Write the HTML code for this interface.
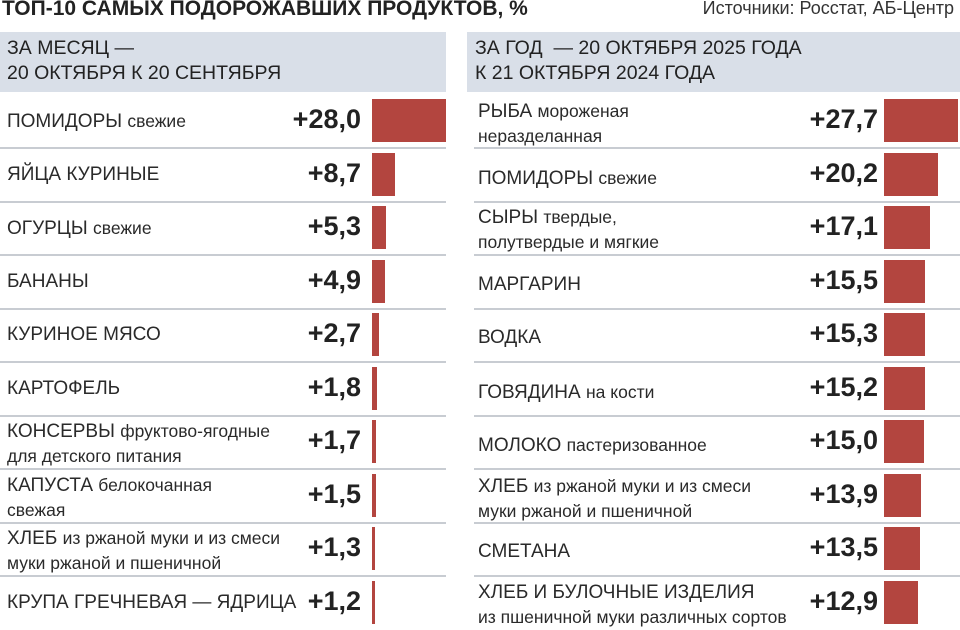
<!DOCTYPE html>
<html><head><meta charset="utf-8"><style>
body{margin:0;width:960px;height:628px;background:#fff;position:relative;overflow:hidden;font-family:"Liberation Sans",sans-serif;color:#222}
.a{position:absolute;white-space:nowrap}
.t{left:2px;top:-3px;font-weight:bold;font-size:21px}
.src{right:6px;top:-2px;font-size:18px;color:#333}
.hd{position:absolute;background:#d9dfe8;top:32px;height:60px}
.ht{position:absolute;font-size:19.5px;line-height:25px;top:36px;white-space:nowrap}
.l{position:absolute;font-size:19px;line-height:24px;white-space:nowrap;color:#2a2a2a}
.l small{font-size:17.5px}
.v{position:absolute;font-size:27px;font-weight:bold;text-align:right;width:100px}
.b{position:absolute;background:#b3453f;height:43px}
.s{position:absolute;height:2px;background:#c8ccd2}
</style></head><body>
<div class="a t">ТОП-10 САМЫХ ПОДОРОЖАВШИХ ПРОДУКТОВ, %</div>
<div class="a src">Источники: Росстат, АБ-Центр</div>
<div class="hd" style="left:0;width:446px"></div>
<div class="hd" style="left:467px;width:493px"></div>
<div class="ht" style="left:7px">ЗА МЕСЯЦ —<br>20 ОКТЯБРЯ К 20 СЕНТЯБРЯ</div>
<div class="ht" style="left:475px">ЗА ГОД&nbsp; — 20 ОКТЯБРЯ 2025 ГОДА<br>К 21 ОКТЯБРЯ 2024 ГОДА</div>

<div class="s" style="left:0;width:446px;top:147px"></div>
<div class="s" style="left:0;width:446px;top:201px"></div>
<div class="s" style="left:0;width:446px;top:254px"></div>
<div class="s" style="left:0;width:446px;top:308px"></div>
<div class="s" style="left:0;width:446px;top:361px"></div>
<div class="s" style="left:0;width:446px;top:415px"></div>
<div class="s" style="left:0;width:446px;top:468px"></div>
<div class="s" style="left:0;width:446px;top:522px"></div>
<div class="s" style="left:0;width:446px;top:575px"></div>
<div class="s" style="left:474px;width:486px;top:147px"></div>
<div class="s" style="left:474px;width:486px;top:201px"></div>
<div class="s" style="left:474px;width:486px;top:254px"></div>
<div class="s" style="left:474px;width:486px;top:308px"></div>
<div class="s" style="left:474px;width:486px;top:361px"></div>
<div class="s" style="left:474px;width:486px;top:415px"></div>
<div class="s" style="left:474px;width:486px;top:468px"></div>
<div class="s" style="left:474px;width:486px;top:522px"></div>
<div class="s" style="left:474px;width:486px;top:575px"></div>

<div class="l" style="left:7px;top:109px">ПОМИДОРЫ <small>свежие</small></div>
<div class="v" style="left:261px;top:104px">+28,0</div><div class="b" style="left:372px;top:99px;width:74px"></div>
<div class="l" style="left:7px;top:163px">ЯЙЦА КУРИНЫЕ</div>
<div class="v" style="left:261px;top:158px">+8,7</div><div class="b" style="left:372px;top:153px;width:23px"></div>
<div class="l" style="left:7px;top:216px">ОГУРЦЫ <small>свежие</small></div>
<div class="v" style="left:261px;top:211px">+5,3</div><div class="b" style="left:372px;top:206px;width:14px"></div>
<div class="l" style="left:7px;top:270px">БАНАНЫ</div>
<div class="v" style="left:261px;top:265px">+4,9</div><div class="b" style="left:372px;top:260px;width:13px"></div>
<div class="l" style="left:7px;top:323px">КУРИНОЕ МЯСО</div>
<div class="v" style="left:261px;top:318px">+2,7</div><div class="b" style="left:372px;top:313px;width:7px"></div>
<div class="l" style="left:7px;top:377px">КАРТОФЕЛЬ</div>
<div class="v" style="left:261px;top:372px">+1,8</div><div class="b" style="left:372px;top:367px;width:5px"></div>
<div class="l" style="left:7px;top:419px">КОНСЕРВЫ <small>фруктово-ягодные<br>для детского питания</small></div>
<div class="v" style="left:261px;top:425px">+1,7</div><div class="b" style="left:372px;top:420px;width:4px"></div>
<div class="l" style="left:7px;top:473px">КАПУСТА <small>белокочанная<br>свежая</small></div>
<div class="v" style="left:261px;top:479px">+1,5</div><div class="b" style="left:372px;top:474px;width:4px"></div>
<div class="l" style="left:7px;top:526px">ХЛЕБ <small>из ржаной муки и из смеси<br>муки ржаной и пшеничной</small></div>
<div class="v" style="left:261px;top:532px">+1,3</div><div class="b" style="left:372px;top:527px;width:3px"></div>
<div class="l" style="left:7px;top:591px">КРУПА ГРЕЧНЕВАЯ — ЯДРИЦА</div>
<div class="v" style="left:261px;top:586px">+1,2</div><div class="b" style="left:372px;top:581px;width:3px"></div>

<div class="l" style="left:478px;top:99px">РЫБА <small>мороженая<br>неразделанная</small></div>
<div class="v" style="left:778px;top:104px">+27,7</div><div class="b" style="left:884px;top:99px;width:74px"></div>
<div class="l" style="left:478px;top:166px">ПОМИДОРЫ <small>свежие</small></div>
<div class="v" style="left:778px;top:158px">+20,2</div><div class="b" style="left:884px;top:153px;width:54px"></div>
<div class="l" style="left:478px;top:205px">СЫРЫ <small>твердые,<br>полутвердые и мягкие</small></div>
<div class="v" style="left:778px;top:211px">+17,1</div><div class="b" style="left:884px;top:206px;width:46px"></div>
<div class="l" style="left:478px;top:273px">МАРГАРИН</div>
<div class="v" style="left:778px;top:265px">+15,5</div><div class="b" style="left:884px;top:260px;width:41px"></div>
<div class="l" style="left:478px;top:326px">ВОДКА</div>
<div class="v" style="left:778px;top:318px">+15,3</div><div class="b" style="left:884px;top:313px;width:41px"></div>
<div class="l" style="left:478px;top:380px">ГОВЯДИНА <small>на кости</small></div>
<div class="v" style="left:778px;top:372px">+15,2</div><div class="b" style="left:884px;top:367px;width:41px"></div>
<div class="l" style="left:478px;top:433px">МОЛОКО <small>пастеризованное</small></div>
<div class="v" style="left:778px;top:425px">+15,0</div><div class="b" style="left:884px;top:420px;width:40px"></div>
<div class="l" style="left:478px;top:474px">ХЛЕБ <small>из ржаной муки и из смеси<br>муки ржаной и пшеничной</small></div>
<div class="v" style="left:778px;top:479px">+13,9</div><div class="b" style="left:884px;top:474px;width:37px"></div>
<div class="l" style="left:478px;top:540px">СМЕТАНА</div>
<div class="v" style="left:778px;top:532px">+13,5</div><div class="b" style="left:884px;top:527px;width:36px"></div>
<div class="l" style="left:478px;top:581px">ХЛЕБ И БУЛОЧНЫЕ ИЗДЕЛИЯ<br><small>из пшеничной муки различных сортов</small></div>
<div class="v" style="left:778px;top:586px">+12,9</div><div class="b" style="left:884px;top:581px;width:34px"></div>
</body></html>
